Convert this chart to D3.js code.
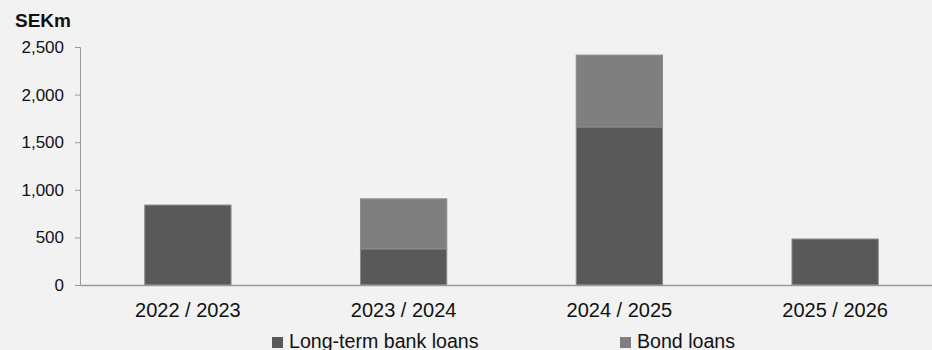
<!DOCTYPE html>
<html lang="en">
<head>
  <meta charset="UTF-8">
  <title>Loan maturities</title>
  <style>
    body { margin: 0; background: #f2f2f2; }
    svg { display: block; font-family: "Liberation Sans", Arial, sans-serif; }
    .axis text { font-size: 17px; fill: #111; font-family: "Liberation Sans", Arial, sans-serif; }
    .axis path, .axis line { stroke: #9a9a9a; }
  </style>
</head>
<body>
  <svg width="932" height="350"></svg>

  <script src="https://d3js.org/d3.v7.min.js"></script>
  <script>
    const years = ["2022 / 2023", "2023 / 2024", "2024 / 2025", "2025 / 2026"];
    const bankLoans = [840, 380, 1660, 483];
    const bondLoans = [0, 525, 755, 0];
    const yTicks = [0, 500, 1000, 1500, 2000, 2500];
    const seriesNames = ["Long-term bank loans", "Bond loans"];
    const colors = ["#595959", "#7f7f7f"];

    const svg = d3.select("svg");

    const x = d3.scaleBand()
      .domain(years)
      .range([80, 943])
      .paddingInner(0.6)
      .paddingOuter(0.3);

    const y = d3.scaleLinear()
      .domain([0, 2500])
      .range([285, 47]);

    const rows = years.map((yr, i) => ({ year: yr, bank: bankLoans[i], bond: bondLoans[i] }));
    const stacked = d3.stack().keys(["bank", "bond"])(rows);

    svg.append("g")
      .selectAll("g")
      .data(stacked)
      .enter().append("g")
      .attr("fill", (d, i) => colors[i])
      .selectAll("rect")
      .data(d => d.filter(p => p[1] > p[0]))
      .enter().append("rect")
      .attr("x", d => x(d.data.year))
      .attr("y", d => y(d[1]))
      .attr("width", x.bandwidth())
      .attr("height", d => y(d[0]) - y(d[1]))
      .attr("stroke", "#8c8c8c")
      .attr("stroke-width", 1);

    // y axis
    svg.append("g")
      .attr("class", "axis")
      .attr("transform", "translate(80,0)")
      .call(d3.axisLeft(y).tickValues(yTicks).tickFormat(d3.format(",")).tickSizeOuter(0).tickSize(5).tickPadding(11));

    // x axis
    const xAxis = svg.append("g")
      .attr("class", "axis")
      .attr("transform", "translate(0,285)")
      .call(d3.axisBottom(x).tickSize(0).tickSizeOuter(0).tickPadding(18));
    xAxis.selectAll("text").style("font-size", "20px");
    xAxis.select(".domain").attr("stroke-width", 1.5);

    svg.append("text")
      .attr("x", 15)
      .attr("y", 27)
      .attr("font-size", 19)
      .attr("font-weight", "bold")
      .attr("fill", "#111")
      .text("SEKm");

    // legend
    const legendX = [272, 620];
    const legend = svg.append("g")
      .selectAll("g")
      .data(seriesNames)
      .enter().append("g")
      .attr("transform", (d, i) => `translate(${legendX[i]},337)`);

    legend.append("rect")
      .attr("width", 11)
      .attr("height", 11)
      .attr("fill", (d, i) => colors[i]);

    legend.append("text")
      .attr("x", 17)
      .attr("y", 10.5)
      .attr("font-size", 19.6)
      .attr("fill", "#111")
      .text(d => d);
  </script>
</body>
</html>
